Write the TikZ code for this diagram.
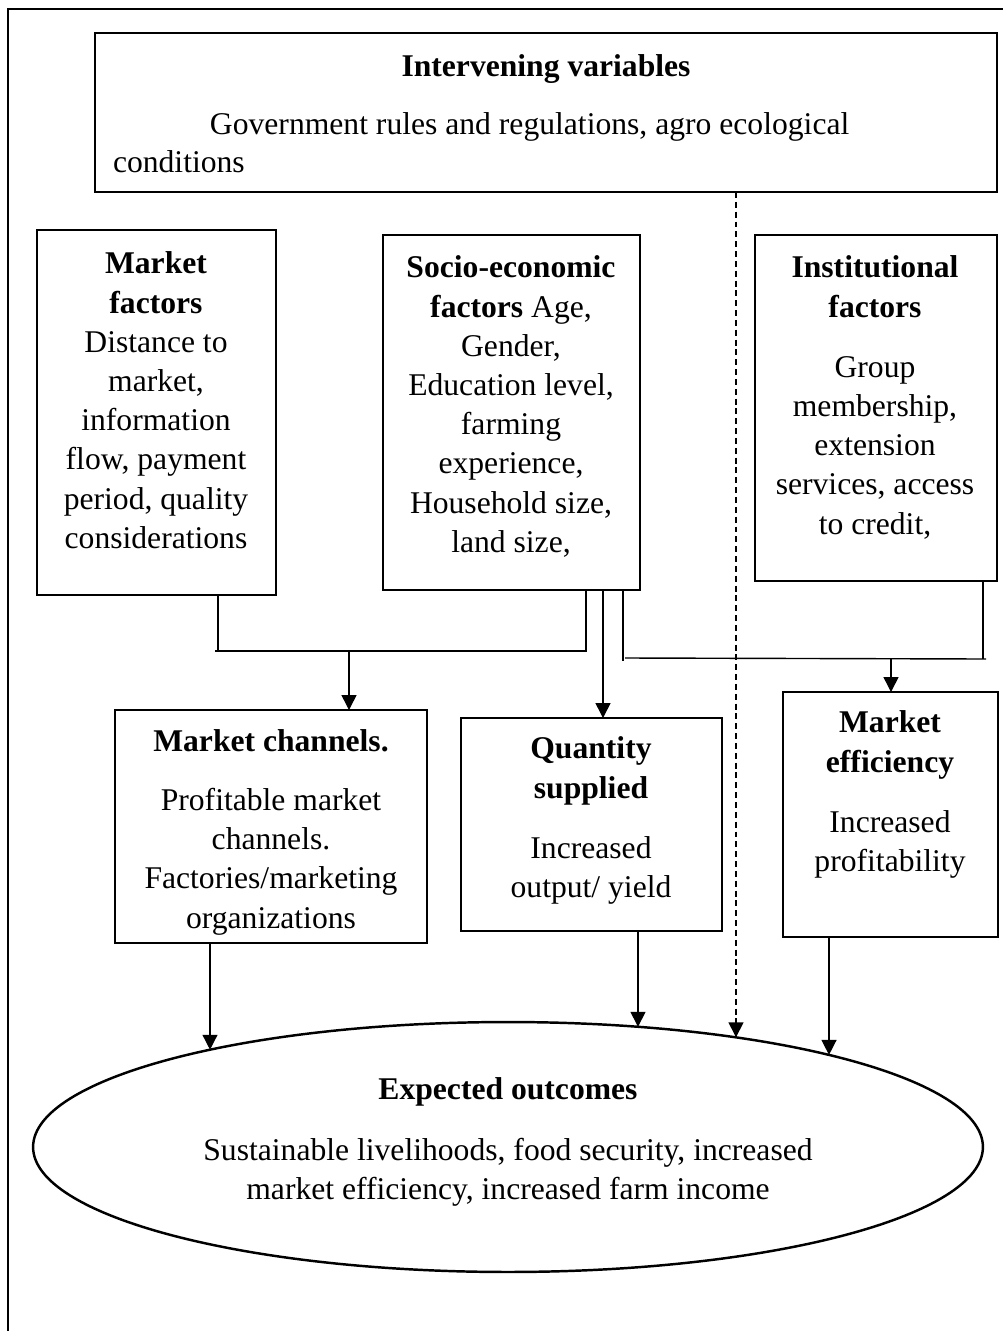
\documentclass[tikz,border=0pt]{standalone}
\usepackage{fontspec}
\setmainfont{Liberation Serif}
\usetikzlibrary{arrows.meta,shapes.geometric}
\begin{document}
\begin{tikzpicture}[x=0.02cm,y=-0.02cm,
  box/.style={draw, line width=1.3pt, inner sep=0pt, outer sep=0pt},
  txt/.style={inner sep=0pt, outer sep=0pt, align=center, anchor=north, font=\fontsize{18}{22.3}\selectfont},
  conn/.style={line width=0.8pt},
  arr/.style={line width=0.8pt, -{Triangle[length=8.5pt,width=8.5pt]}},
  dsh/.style={dash pattern=on 3.4pt off 2.2pt}
]
\useasboundingbox (0,0) rectangle (1003,1331);
% outer frame
\draw[line width=1pt] (8,1331) -- (8,9) -- (1003,9);

% boxes
\node[box, minimum width=18.04cm, minimum height=3.18cm] (iv) at (546,112.5) {};
\node[box, minimum width=4.78cm, minimum height=7.3cm] (mf) at (156.5,412.5) {};
\node[box, minimum width=5.14cm, minimum height=7.1cm] (se) at (511.5,412.5) {};
\node[box, minimum width=4.84cm, minimum height=6.92cm] (inst) at (876,408) {};
\node[box, minimum width=6.24cm, minimum height=4.66cm] (mc) at (271,826.5) {};
\node[box, minimum width=5.22cm, minimum height=4.26cm] (qs) at (591.5,824.5) {};
\node[box, minimum width=4.3cm, minimum height=4.9cm] (me) at (890.5,814.5) {};
\node[draw, ellipse, line width=1.4pt, inner sep=0pt, outer sep=0pt, minimum width=19cm, minimum height=5cm] (eo) at (508,1147) {};

% texts
\node[txt] (ivt) at (546,55) {\textbf{Intervening variables}};
\node[txt, anchor=north west, align=left, font=\fontsize{18}{21.5}\selectfont] (ivb) at (113,113) {\hspace*{1.94cm}Government rules and regulations, agro ecological\\conditions};
\node[txt] (mft) at (156,252) {\textbf{Market}\\\textbf{factors}\\Distance to\\market,\\information\\flow, payment\\period, quality\\considerations};
\node[txt] (set) at (511,256) {\textbf{Socio-economic}\\\textbf{factors} Age,\\Gender,\\Education level,\\farming\\experience,\\Household size,\\land size,};
\node[txt] (instt) at (875,256) {\textbf{Institutional}\\\textbf{factors}\\[12pt]Group\\membership,\\extension\\services, access\\to credit,};
\node[txt] (mct) at (271,730) {\textbf{Market channels.}\\[11pt]Profitable market\\channels.\\Factories/marketing\\organizations};
\node[txt] (qst) at (591,737) {\textbf{Quantity}\\\textbf{supplied}\\[12pt]Increased\\output/ yield};
\node[txt] (met) at (890,711) {\textbf{Market}\\\textbf{efficiency}\\[12pt]Increased\\profitability};
\node[txt] (eot) at (508,1078) {\textbf{Expected outcomes}\\[12pt]Sustainable livelihoods, food security, increased\\market efficiency, increased farm income};

% connectors: market + socio-economic -> market channels
\coordinate (jA) at (218,651);
\coordinate (jA0) at (215,651);
\coordinate (jB) at (586,651);
\coordinate (jM) at (349,651);
\draw[conn] (mf.south -| jA) -- (jA);
\draw[conn] (jA0) -- (jB) -- (se.south -| jB);
\draw[arr] (jM) -- (mc.north -| jM);
% socio-economic -> quantity supplied
\coordinate (q0) at (603,600);
\draw[arr] (se.south -| q0) -- (qs.north -| q0);
% socio-economic + institutional -> market efficiency
\coordinate (jC) at (623,661);
\coordinate (jC0) at (625,658);
\coordinate (jD) at (986,659);
\coordinate (jD0) at (983,659);
\coordinate (jE) at (891,659);
\draw[conn] (se.south -| jC) -- (jC);
\draw[conn] (jC0) -- (jD);
\draw[conn] (inst.south -| jD0) -- (jD0);
\draw[arr] (jE) -- (me.north -| jE);

% arrows to expected outcomes
\coordinate (e1) at (210,1049.7);
\coordinate (e2) at (638,1026.8);
\coordinate (e3) at (736,1037.3);
\coordinate (e4) at (829,1054.9);
\draw[arr] (mc.south -| e1) -- (e1);
\draw[arr] (qs.south -| e2) -- (e2);
\draw[arr, dsh] (iv.south -| e3) -- (e3);
\draw[arr] (me.south -| e4) -- (e4);
\end{tikzpicture}
\end{document}
